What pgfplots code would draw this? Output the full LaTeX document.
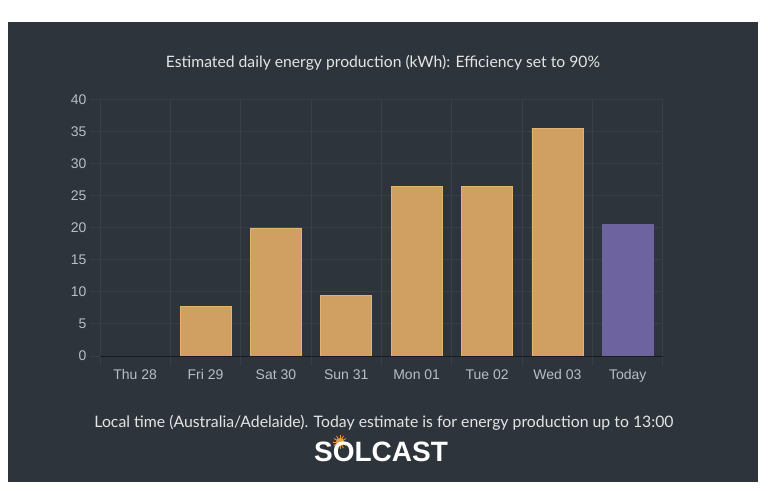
\documentclass[border=0pt]{standalone}
\usepackage{pgfplots}
\pgfplotsset{compat=1.18}
\usepackage{fontspec}
\setmainfont{Liberation Sans}
\newfontfamily\titlefont{Lato}
\definecolor{bg}{RGB}{46,52,59}
\definecolor{gridc}{RGB}{57,63,70}
\definecolor{tickc}{RGB}{185,190,195}
\definecolor{titlec}{RGB}{228,228,228}
\definecolor{barO}{RGB}{207,160,98}
\definecolor{barOedge}{RGB}{225,178,112}
\definecolor{barP}{RGB}{109,99,158}
\definecolor{axc}{RGB}{24,27,31}
\definecolor{sun}{RGB}{232,160,60}
\begin{document}
\begin{tikzpicture}
\fill[white] (0pt,0pt) rectangle (768pt,490pt);
\fill[bg] (8pt,8pt) rectangle (758pt,468pt);
\begin{axis}[
  at={(100pt,134pt)}, anchor=south west,
  scale only axis, width=563pt, height=256pt,
  xmin=-0.5, xmax=7.5, ymin=0, ymax=40,
  xtick={0,...,7},
  xticklabels={Thu 28,Fri 29,Sat 30,Sun 31,Mon 01,Tue 02,Wed 03,Today},
  minor xtick={-0.5,0.5,...,7.5},
  ytick={0,5,...,40},
  axis line style={draw=none},
  ymajorgrids, xminorgrids,
  grid style={gridc, line width=1pt},
  tick align=outside, tick pos=left,
  major tick length=10pt, minor tick length=10pt,
  tick style={gridc, line width=1pt},
  major x tick style={draw=none},
  ticklabel style={font=\fontsize{14}{16}\selectfont, color=tickc},
  /pgf/number format/assume math mode=true,
]
\addplot[ybar, bar shift=0pt, bar width=0.725, fill=barO, draw=barOedge, line width=0.8pt]
  coordinates {(0,0) (1,7.7) (2,20.0) (3,9.5) (4,26.45) (5,26.55) (6,35.6)};
\addplot[ybar, bar shift=0pt, bar width=0.725, fill=barP, draw=barP, line width=0.8pt]
  coordinates {(7,20.6)};
\draw[axc, line width=1pt] (axis cs:-0.5,0) -- (axis cs:7.5,0);
\end{axis}
\node[font=\titlefont\fontsize{15.7}{18}\selectfont, color=titlec] at (383pt,427pt)
  {Estimated daily energy production (kWh): Efficiency set to 90\%};
\node[font=\titlefont\fontsize{15.8}{18}\selectfont, color=titlec] at (384pt,67pt)
  {Local time (Australia/Adelaide). Today estimate is for energy production up to 13:00};
\fill[sun] (340pt,48pt) circle (4pt);
\foreach \a in {0,30,...,330} \draw[sun, line width=0.8pt] (340pt,48pt) -- ++(\a:7pt);
\node[font=\bfseries\fontsize{28}{30}\selectfont, color=white] at (381pt,38pt) {SOLCAST};
\end{tikzpicture}
\end{document}
